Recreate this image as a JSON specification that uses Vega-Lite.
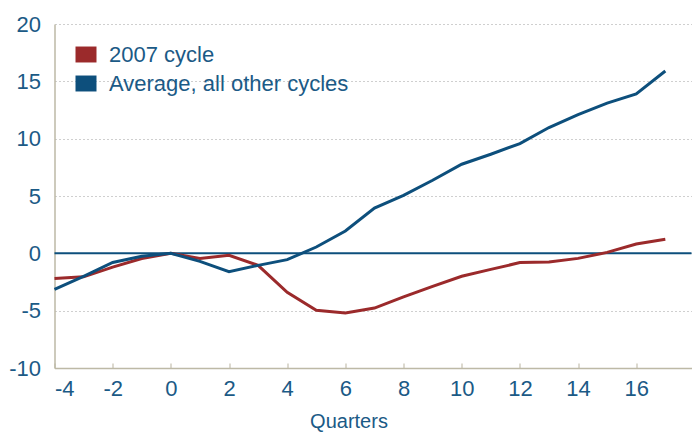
{
  "$schema": "https://vega.github.io/schema/vega-lite/v6.json",
  "width": 637,
  "height": 344,
  "autosize": {"type": "none"},
  "padding": {"left": 54.5, "top": 24, "right": 0, "bottom": 64},
  "background": "white",
  "config": {
    "view": {"stroke": null},
    "font": "Liberation Sans",
    "axis": {
      "labelFont": "Liberation Sans",
      "titleFont": "Liberation Sans",
      "labelColor": "#1b5a86",
      "titleColor": "#1b5a86",
      "labelFontSize": 22,
      "titleFontSize": 20,
      "titleFontWeight": "normal",
      "domainColor": "#bdb9a6",
      "domainWidth": 1.5,
      "gridColor": "#cfcfcf",
      "gridDash": [2, 2],
      "gridWidth": 1
    }
  },
  "data": {
    "values": [
      {"q": -4, "s": "2007 cycle", "v": -2.2},
      {"q": -3, "s": "2007 cycle", "v": -2.05},
      {"q": -2, "s": "2007 cycle", "v": -1.2},
      {"q": -1, "s": "2007 cycle", "v": -0.45},
      {"q": 0, "s": "2007 cycle", "v": 0},
      {"q": 1, "s": "2007 cycle", "v": -0.45},
      {"q": 2, "s": "2007 cycle", "v": -0.17},
      {"q": 3, "s": "2007 cycle", "v": -1.05},
      {"q": 4, "s": "2007 cycle", "v": -3.4},
      {"q": 5, "s": "2007 cycle", "v": -4.97},
      {"q": 6, "s": "2007 cycle", "v": -5.2},
      {"q": 7, "s": "2007 cycle", "v": -4.77},
      {"q": 8, "s": "2007 cycle", "v": -3.8},
      {"q": 9, "s": "2007 cycle", "v": -2.88},
      {"q": 10, "s": "2007 cycle", "v": -2.0},
      {"q": 11, "s": "2007 cycle", "v": -1.4},
      {"q": 12, "s": "2007 cycle", "v": -0.81},
      {"q": 13, "s": "2007 cycle", "v": -0.76},
      {"q": 14, "s": "2007 cycle", "v": -0.44},
      {"q": 15, "s": "2007 cycle", "v": 0.08},
      {"q": 16, "s": "2007 cycle", "v": 0.81},
      {"q": 17, "s": "2007 cycle", "v": 1.22},
      {"q": -4, "s": "Average, all other cycles", "v": -3.14},
      {"q": -3, "s": "Average, all other cycles", "v": -2.0},
      {"q": -2, "s": "Average, all other cycles", "v": -0.8},
      {"q": -1, "s": "Average, all other cycles", "v": -0.25},
      {"q": 0, "s": "Average, all other cycles", "v": 0},
      {"q": 1, "s": "Average, all other cycles", "v": -0.7},
      {"q": 2, "s": "Average, all other cycles", "v": -1.6},
      {"q": 3, "s": "Average, all other cycles", "v": -1.05},
      {"q": 4, "s": "Average, all other cycles", "v": -0.55},
      {"q": 5, "s": "Average, all other cycles", "v": 0.55},
      {"q": 6, "s": "Average, all other cycles", "v": 1.95},
      {"q": 7, "s": "Average, all other cycles", "v": 3.95},
      {"q": 8, "s": "Average, all other cycles", "v": 5.06},
      {"q": 9, "s": "Average, all other cycles", "v": 6.37},
      {"q": 10, "s": "Average, all other cycles", "v": 7.77},
      {"q": 11, "s": "Average, all other cycles", "v": 8.64},
      {"q": 12, "s": "Average, all other cycles", "v": 9.57},
      {"q": 13, "s": "Average, all other cycles", "v": 10.97},
      {"q": 14, "s": "Average, all other cycles", "v": 12.1},
      {"q": 15, "s": "Average, all other cycles", "v": 13.1},
      {"q": 16, "s": "Average, all other cycles", "v": 13.9},
      {"q": 17, "s": "Average, all other cycles", "v": 15.9}
    ]
  },
  "layer": [
    {
      "data": {"values": [{"z": 0}]},
      "mark": {"type": "rule", "color": "#0d4f7c", "strokeWidth": 2},
      "encoding": {
        "y": {"field": "z", "type": "quantitative", "scale": {"domain": [-10, 20]}}
      }
    },
    {
      "mark": {"type": "line", "strokeWidth": 3},
      "encoding": {
        "x": {
          "field": "q",
          "type": "quantitative",
          "title": "Quarters",
          "scale": {"domain": [-4, 17.9], "nice": false, "zero": false},
          "axis": {
            "values": [-4, -2, 0, 2, 4, 6, 8, 10, 12, 14, 16],
            "labelExpr": "toString(datum.value)",
            "grid": false,
            "ticks": true,
            "tickSize": -5,
            "tickColor": "#d0cdbf",
            "tickWidth": 1.5,
            "labelPadding": 15,
            "titleX": 294,
            "titleY": 59.5,
            "titleBaseline": "alphabetic",
            "titleAlign": "center",
            "titleAnchor": "start"
          }
        },
        "y": {
          "field": "v",
          "type": "quantitative",
          "title": null,
          "scale": {"domain": [-10, 20], "nice": false},
          "axis": {
            "values": [-10, -5, 0, 5, 10, 15, 20],
            "labelExpr": "toString(datum.value)",
            "ticks": false,
            "labelPadding": 14,
            "grid": true
          }
        },
        "color": {
          "field": "s",
          "type": "nominal",
          "title": null,
          "scale": {"domain": ["2007 cycle", "Average, all other cycles"], "range": ["#9b2a2b", "#0d4f7c"]},
          "legend": {
            "orient": "none",
            "legendX": 20.5,
            "legendY": 19.5,
            "symbolType": "M-1,-0.76H1V0.76H-1Z",
            "symbolSize": 441,
            "symbolStrokeWidth": 0,
            "labelFont": "Liberation Sans",
            "labelFontSize": 22,
            "labelColor": "#1b5a86",
            "labelOffset": 12,
            "labelLimit": 500,
            "rowPadding": 7,
            "encode": {
              "symbols": {
                "update": {
                  "fill": {"scale": "color", "field": "value"},
                  "stroke": {"value": "transparent"}
                }
              }
            }
          }
        }
      }
    }
  ]
}
